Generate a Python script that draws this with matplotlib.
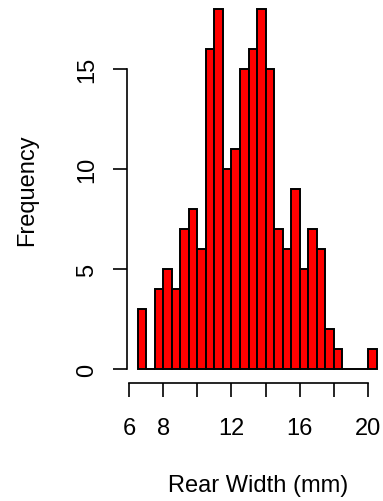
import matplotlib
matplotlib.use('Agg')
import numpy as np
import matplotlib.pyplot as plt

plt.rcParams["font.family"] = ["Liberation Sans", "DejaVu Sans"]

# 数据：后背宽度直方图 (bin width 0.5)
bin_left = np.arange(6.5, 20.5, 0.5)
counts = [3, 0, 4, 5, 4, 7, 8, 6, 16, 18, 10, 11, 15, 16, 18, 15,
          7, 6, 9, 5, 7, 6, 2, 1, 0, 0, 0, 1]
x_ticks = [6, 8, 10, 12, 14, 16, 18, 20]
x_ticklabels = ["6", "8", "", "12", "", "16", "", "20"]
y_ticks = [0, 5, 10, 15]

W, H = 383, 502
fig = plt.figure(figsize=(W / 100, H / 100), dpi=100)

# 像素位置换算
xlim = (5.9, 20.8)
ylim = (-0.72, 18.4)
left_px, right_px = 127.3, 381.7
bottom_px, top_px = 384.4, 2.0
ax = fig.add_axes([left_px / W, 1 - bottom_px / H,
                   (right_px - left_px) / W, (bottom_px - top_px) / H])

ax.bar(bin_left, counts, width=0.5, align='edge', color='red',
       edgecolor='black', linewidth=1.4, clip_on=False)
ax.set_xlim(*xlim)
ax.set_ylim(*ylim)

# R 风格坐标轴
for s in ["top", "right"]:
    ax.spines[s].set_visible(False)
ax.spines["bottom"].set_bounds(6, 20)
ax.spines["left"].set_bounds(0, 15)
for s in ["bottom", "left"]:
    ax.spines[s].set_linewidth(1.2)

ax.set_xticks(x_ticks)
ax.set_xticklabels(x_ticklabels)
ax.set_yticks(y_ticks)
ax.set_yticklabels([str(v) for v in y_ticks], rotation=90, va='center')
ax.tick_params(axis='both', direction='out', length=10, width=1.2,
               labelsize=17)
ax.tick_params(axis='x', pad=14)
ax.tick_params(axis='y', pad=11)

fig.text(27 / W, 1 - 190 / H, "Frequency", rotation=90, ha='center',
         va='center', fontsize=17)
fig.text(258 / W, 1 - 492 / H, "Rear Width (mm)", ha='center',
         va='baseline', fontsize=17)

plt.savefig("out.png", dpi=100)
plt.close()
